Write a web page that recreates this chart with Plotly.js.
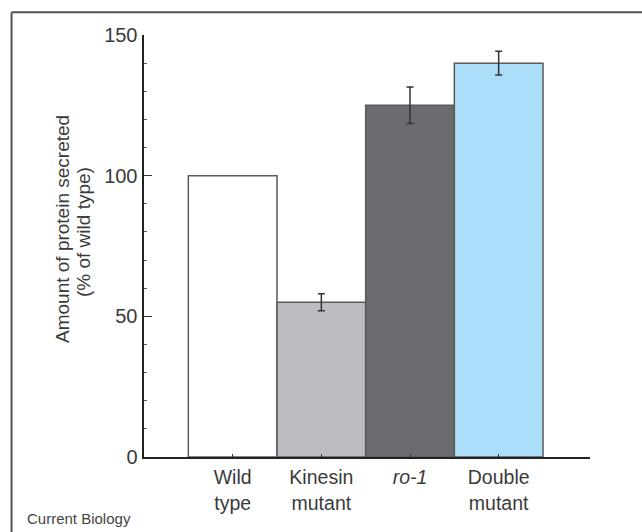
<!DOCTYPE html>
<html>
<head>
<meta charset="utf-8">
<script src="https://cdn.plot.ly/plotly-3.0.1.min.js"></script>
<style>
html,body{margin:0;padding:0;background:#fff;}
#chart{width:642px;height:532px;}
</style>
</head>
<body>
<div id="chart"></div>
<script>
var categories = ["Wild<br>type", "Kinesin<br>mutant", "<i>ro-1</i>", "Double<br>mutant"];
var values = [100, 55, 125, 140];
var errors = [0, 3, 6.5, 4.2];
var showError = [false, true, true, true];
var barColors = ["#ffffff", "#bcbdc1", "#6b6c70", "#abdff9"];
var yTicks = [0, 50, 100, 150];
var yTitleLines = ["Amount of protein secreted", "(% of wild type)"];
var footer = "Current Biology";

var xIdx = categories.map(function(_, i){ return i; });
var errX = [], errY = [], errV = [];
errors.forEach(function(e, i){ if (showError[i]) { errX.push(i); errY.push(values[i]); errV.push(e); } });

var bars = {
  type: "bar",
  x: xIdx,
  y: values,
  width: 1,
  marker: {color: barColors, line: {color: "#5a5a5a", width: 1.5}},
  hoverinfo: "skip"
};
var errTrace = {
  type: "scatter", mode: "markers",
  x: errX, y: errY,
  marker: {size: 1, color: "rgba(0,0,0,0)"},
  error_y: {type: "data", array: errV, visible: true, color: "#333", thickness: 1.5, width: 3.5},
  hoverinfo: "skip"
};

var fnt = "Liberation Sans, Arial, sans-serif";
var layout = {
  width: 642, height: 532,
  margin: {l: 144, r: 52, t: 35, b: 75},
  paper_bgcolor: "#fff", plot_bgcolor: "rgba(0,0,0,0)",
  showlegend: false,
  bargap: 0,
  font: {family: fnt, color: "#333", size: 20},
  xaxis: {
    range: [-1, 4.03],
    tickmode: "array", tickvals: xIdx, ticktext: categories,
    ticks: "inside", ticklen: 3, tickcolor: "#333", tickwidth: 1,
    ticklabelstandoff: 2,
    showline: true, linecolor: "#222", linewidth: 2,
    showgrid: false, zeroline: false, fixedrange: true,
    tickfont: {size: 19.5, color: "#3a3a3a"}
  },
  yaxis: {
    range: [0, 150],
    tickmode: "array", tickvals: yTicks,
    ticks: "inside", ticklen: 8, tickcolor: "#333", tickwidth: 1.5,
    minor: {dtick: 10, ticks: "inside", ticklen: 3, tickcolor: "#555", tickwidth: 1},
    showline: true, linecolor: "#222", linewidth: 2.5,
    showgrid: false, zeroline: false, fixedrange: true,
    tickfont: {size: 20, color: "#3a3a3a"}
  },
  shapes: [
    {type: "line", xref: "paper", yref: "paper", x0: -0.297, x1: 1.2, y0: 1.054, y1: 1.054, line: {color: "#555", width: 2}},
    {type: "line", xref: "paper", yref: "paper", x0: -0.297, x1: -0.297, y0: 1.054, y1: -0.2, line: {color: "#555", width: 2}}
  ],
  annotations: [
    {text: yTitleLines[0], xref: "paper", yref: "paper", x: (62 - 144) / 446, y: (457 - 229) / 422, xanchor: "center", yanchor: "middle", textangle: -90, showarrow: false, font: {size: 19, color: "#3a3a3a"}},
    {text: yTitleLines[1], xref: "paper", yref: "paper", x: (83 - 144) / 446, y: (457 - 232) / 422, xanchor: "center", yanchor: "middle", textangle: -90, showarrow: false, font: {size: 19, color: "#3a3a3a"}},
    {text: footer, xref: "paper", yref: "paper", x: (25 - 144) / 446, y: (457 - 518) / 422, xanchor: "left", yanchor: "middle", showarrow: false, font: {size: 15, color: "#444"}}
  ]
};

Plotly.newPlot("chart", [bars, errTrace], layout, {displayModeBar: false, staticPlot: true});
</script>
</body>
</html>
